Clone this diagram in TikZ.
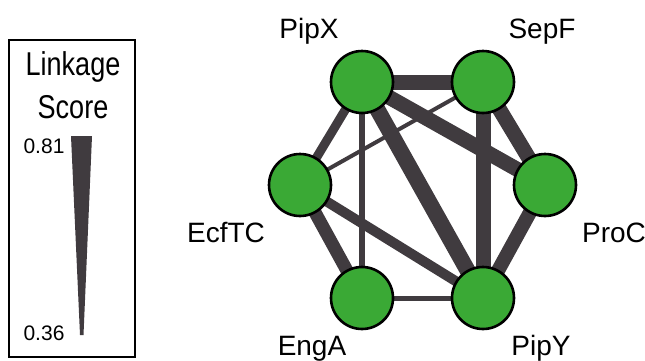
\documentclass[tikz,border=0pt]{standalone}
\usepackage{fontspec}
\setmainfont{Liberation Sans}
\newfontfamily\narrowf[FakeStretch=0.82]{Liberation Sans}
\usetikzlibrary{backgrounds}
\definecolor{nodegreen}{HTML}{3AA935}
\definecolor{edgegray}{HTML}{403B3F}
\begin{document}
\begin{tikzpicture}[x=1pt,y=-1pt,
  prot/.style={circle,draw=black,line width=2.6pt,fill=nodegreen,minimum size=62pt,inner sep=0pt},
  lab/.style={font=\fontsize{28}{28}\selectfont,anchor=base,inner sep=0pt},
  link/.style={draw=edgegray,line width=#1},
  leg/.style={font=\narrowf\fontsize{33}{33}\selectfont,anchor=base,inner sep=0pt},
  val/.style={font=\fontsize{21}{21}\selectfont,anchor=base,inner sep=0pt}]
\useasboundingbox (0,0) rectangle (645,360);
% legend
\node[draw=black,line width=2pt,minimum width=126pt,minimum height=317pt,inner sep=0pt] (box) at (72,198.5) {};
\node[leg] (lk) at (73,75) {Linkage};
\node[leg] (sc) at (73,118) {Score};
\node[val] (hi) at (44,153) {0.81};
\node[val] (lo) at (44,340) {0.36};
\fill[edgegray] (71,136) -- (92,136) -- (83.5,335) -- (80,335) -- cycle;
% proteins
\node[prot] (pipx) at (362,82) {};
\node[prot] (sepf) at (483,82) {};
\node[prot] (proc) at (545,185) {};
\node[prot] (ecf) at (300,185) {};
\node[prot] (enga) at (362,298) {};
\node[prot] (pipy) at (483,298) {};
\node[lab] (lpipx) at (309,38) {PipX};
\node[lab] (lsepf) at (542,38) {SepF};
\node[lab] (lecf) at (226,242) {EcfTC};
\node[lab] (lproc) at (614,242) {ProC};
\node[lab] (lenga) at (312,355) {EngA};
\node[lab] (lpipy) at (541,355) {PipY};
% links
\begin{scope}[on background layer]
\draw[link=15pt] (pipx.center) -- (sepf.center);
\draw[link=9pt] (pipx.center) -- (ecf.center);
\draw[link=6pt] (pipx.center) -- (enga.center);
\draw[link=16pt] (pipx.center) -- (pipy.center);
\draw[link=15pt] (pipx.center) -- (proc.center);
\draw[link=4pt] (sepf.center) -- (ecf.center);
\draw[link=15pt] (sepf.center) -- (pipy.center);
\draw[link=15pt] (sepf.center) -- (proc.center);
\draw[link=14pt] (proc.center) -- (pipy.center);
\draw[link=13pt] (ecf.center) -- (enga.center);
\draw[link=10pt] (ecf.center) -- (pipy.center);
\draw[link=5pt] (enga.center) -- (pipy.center);
\end{scope}
\end{tikzpicture}
\end{document}
